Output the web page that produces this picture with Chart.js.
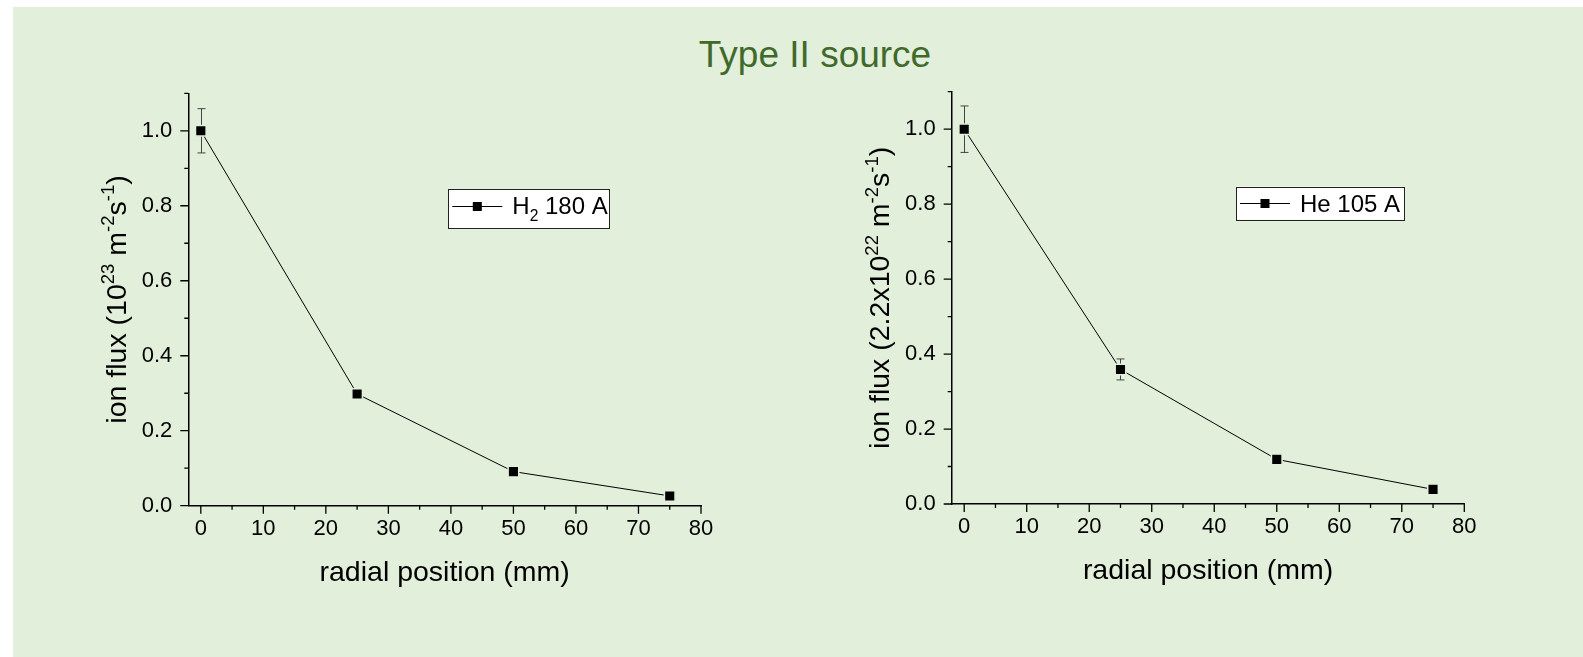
<!DOCTYPE html>
<html>
<head>
<meta charset="utf-8">
<script src="https://cdn.jsdelivr.net/npm/chart.js@4/dist/chart.umd.min.js"></script>
<style>
  body { margin: 0; width: 1583px; height: 657px; overflow: hidden; background: #fff; font-family: "Liberation Sans", Arial, sans-serif; }
  #bg { position: absolute; left: 13px; top: 7px; right: 0; bottom: 0; background: #e2efda; }
  #title { position: absolute; left: 515px; width: 600px; top: 36px; text-align: center; font-size: 37px; line-height: 37px; color: #3f6a2b; }
  canvas { position: absolute; left: 0; top: 0; }
</style>
</head>
<body>
<div id="bg"></div>
<div id="title">Type II source</div>
<canvas id="left" width="1583" height="657"></canvas>
<canvas id="right" width="1583" height="657"></canvas>
<script>
const FONT = '"Liberation Sans", Arial, sans-serif';

// data
const xPos = [0, 25, 50, 75];
const h2Flux = [1.0, 0.298, 0.091, 0.026];
const h2Err = [0.059, 0, 0, 0];
const heFlux = [1.0, 0.359, 0.119, 0.039];
const heErr = [0.062, 0.028, 0, 0];

const xTicks = [0, 10, 20, 30, 40, 50, 60, 70, 80];
const xMinor = [5, 15, 25, 35, 45, 55, 65, 75];
const yTicks = [0, 0.2, 0.4, 0.6, 0.8, 1.0];
const yMinor = [0.1, 0.3, 0.5, 0.7, 0.9, 1.1];

const xTitle = 'radial position (mm)';
const h2YTitle = [['ion flux (10'], ['23', 'sup'], [' m'], ['-2', 'sup'], ['s'], ['-1', 'sup'], [')']];
const heYTitle = [['ion flux (2.2x10'], ['22', 'sup'], [' m'], ['-2', 'sup'], ['s'], ['-1', 'sup'], [')']];
const h2Label = [['H'], ['2', 'sub'], [' 180 A']];
const heLabel = [['He 105 A']];

function segWidth(ctx, segs, size) {
  let w = 0;
  segs.forEach(s => {
    ctx.font = (s[1] ? size * 0.65 : size) + 'px ' + FONT;
    w += ctx.measureText(s[0]).width;
  });
  return w;
}

function drawSegs(ctx, segs, x, y, size) {
  ctx.textBaseline = 'alphabetic';
  ctx.textAlign = 'left';
  segs.forEach(s => {
    let dy = 0, sz = size;
    if (s[1] === 'sup') { sz = size * 0.65; dy = -size * 0.4; }
    if (s[1] === 'sub') { sz = size * 0.65; dy = size * 0.28; }
    ctx.font = sz + 'px ' + FONT;
    ctx.fillText(s[0], x, y + dy);
    x += ctx.measureText(s[0]).width;
  });
}

const decor = {
  id: 'decor',
  beforeDatasetsDraw(chart, args, opts) {
    const ctx = chart.ctx;
    const xs = chart.scales.x, ys = chart.scales.y;
    const pts = chart.data.datasets[0].data;
    ctx.save();
    ctx.strokeStyle = '#444';
    ctx.lineWidth = 1;
    opts.errors.forEach((e, i) => {
      if (!e) return;
      const x = Math.round(xs.getPixelForValue(pts[i].x)) + 0.5;
      const y1 = ys.getPixelForValue(pts[i].y + e);
      const y2 = ys.getPixelForValue(pts[i].y - e);
      ctx.beginPath();
      ctx.moveTo(x, y1); ctx.lineTo(x, y2);
      ctx.moveTo(x - 4, y1); ctx.lineTo(x + 4, y1);
      ctx.moveTo(x - 4, y2); ctx.lineTo(x + 4, y2);
      ctx.stroke();
    });
    ctx.restore();
  },
  afterDraw(chart, args, opts) {
    const ctx = chart.ctx;
    const a = chart.chartArea;
    const xs = chart.scales.x, ys = chart.scales.y;
    ctx.save();
    ctx.fillStyle = '#000';
    ctx.strokeStyle = '#000';
    ctx.lineWidth = 1.3;
    // tick marks
    ctx.beginPath();
    yTicks.forEach(v => { const y = ys.getPixelForValue(v); ctx.moveTo(a.left - 8, y); ctx.lineTo(a.left, y); });
    yMinor.forEach(v => { const y = ys.getPixelForValue(v); ctx.moveTo(a.left - 4, y); ctx.lineTo(a.left, y); });
    xTicks.forEach(v => { const x = xs.getPixelForValue(v); ctx.moveTo(x, a.bottom); ctx.lineTo(x, a.bottom + 8); });
    xMinor.forEach(v => { const x = xs.getPixelForValue(v); ctx.moveTo(x, a.bottom); ctx.lineTo(x, a.bottom + 4); });
    ctx.stroke();

    // x axis title
    const ts = 28.5;
    ctx.font = ts + 'px ' + FONT;
    ctx.textAlign = 'center';
    ctx.textBaseline = 'alphabetic';
    ctx.fillText(xTitle, (a.left + a.right) / 2, a.bottom + 75);

    // y axis title, rotated
    ctx.save();
    ctx.translate(a.left - 62.5, (a.top + a.bottom) / 2);
    ctx.rotate(-Math.PI / 2);
    const w = segWidth(ctx, opts.yTitle, ts);
    drawSegs(ctx, opts.yTitle, -w / 2, 0, ts);
    ctx.restore();

    // legend box
    const lb = opts.legendBox;
    const bx = a.left + lb.dx, by = a.top + lb.dy;
    ctx.fillStyle = '#fff';
    ctx.fillRect(bx, by, lb.w, lb.h);
    ctx.lineWidth = 1;
    ctx.strokeStyle = '#222';
    ctx.strokeRect(Math.round(bx) + 0.5, Math.round(by) + 0.5, lb.w, lb.h);
    ctx.strokeStyle = '#000';
    ctx.beginPath();
    const ly = Math.round(by + 16.5) + 0.5;
    ctx.moveTo(bx + 4, ly); ctx.lineTo(bx + 54, ly);
    ctx.stroke();
    ctx.fillStyle = '#000';
    ctx.fillRect(bx + 29 - 4.5, ly - 4.5, 9, 9);
    drawSegs(ctx, opts.label, bx + 64, by + 25, 24);
    ctx.restore();
  }
};

function makeChart(id, flux, errs, yTitle, label, pad, legendBox) {
  return new Chart(document.getElementById(id), {
    type: 'line',
    data: {
      datasets: [{
        data: xPos.map((x, i) => ({ x: x, y: flux[i] })),
        borderColor: '#000',
        borderWidth: 1,
        tension: 0,
        pointStyle: 'rect',
        pointRadius: 7.5,
        pointBackgroundColor: '#000',
        pointBorderColor: '#e2efda',
        pointBorderWidth: 1.5,
        clip: false
      }]
    },
    options: {
      responsive: false,
      animation: false,
      devicePixelRatio: 1,
      events: [],
      layout: { padding: pad },
      plugins: {
        legend: { display: false },
        tooltip: { enabled: false },
        decor: { errors: errs, yTitle: yTitle, label: label, legendBox: legendBox }
      },
      scales: {
        x: {
          type: 'linear',
          min: -2,
          max: 80,
          afterBuildTicks: s => { s.ticks = xTicks.map(v => ({ value: v })); },
          afterFit: s => { s.height = 60; },
          grid: { display: false, drawTicks: false },
          border: { display: true, color: '#000', width: 1.5 },
          ticks: { padding: 10, color: '#000', font: { family: FONT, size: 22 }, maxRotation: 0, autoSkip: false }
        },
        y: {
          type: 'linear',
          min: 0,
          max: 1.1,
          afterBuildTicks: s => { s.ticks = yTicks.map(v => ({ value: v })); },
          afterFit: s => { s.width = 100; },
          grid: { display: false, drawTicks: false },
          border: { display: true, color: '#000', width: 1.5 },
          ticks: { padding: 16, color: '#000', font: { family: FONT, size: 22 }, callback: v => v.toFixed(1) }
        }
      }
    },
    plugins: [decor]
  });
}

makeChart('left', h2Flux, h2Err, h2YTitle, h2Label,
  { left: 88.3, right: 882, top: 93.3, bottom: 91.3 },
  { dx: 260, dy: 95.7, w: 161, h: 39 });
makeChart('right', heFlux, heErr, heYTitle, heLabel,
  { left: 851.7, right: 118.7, top: 91.7, bottom: 93 },
  { dx: 284.3, dy: 95, w: 168, h: 33 });
</script>
</body>
</html>
